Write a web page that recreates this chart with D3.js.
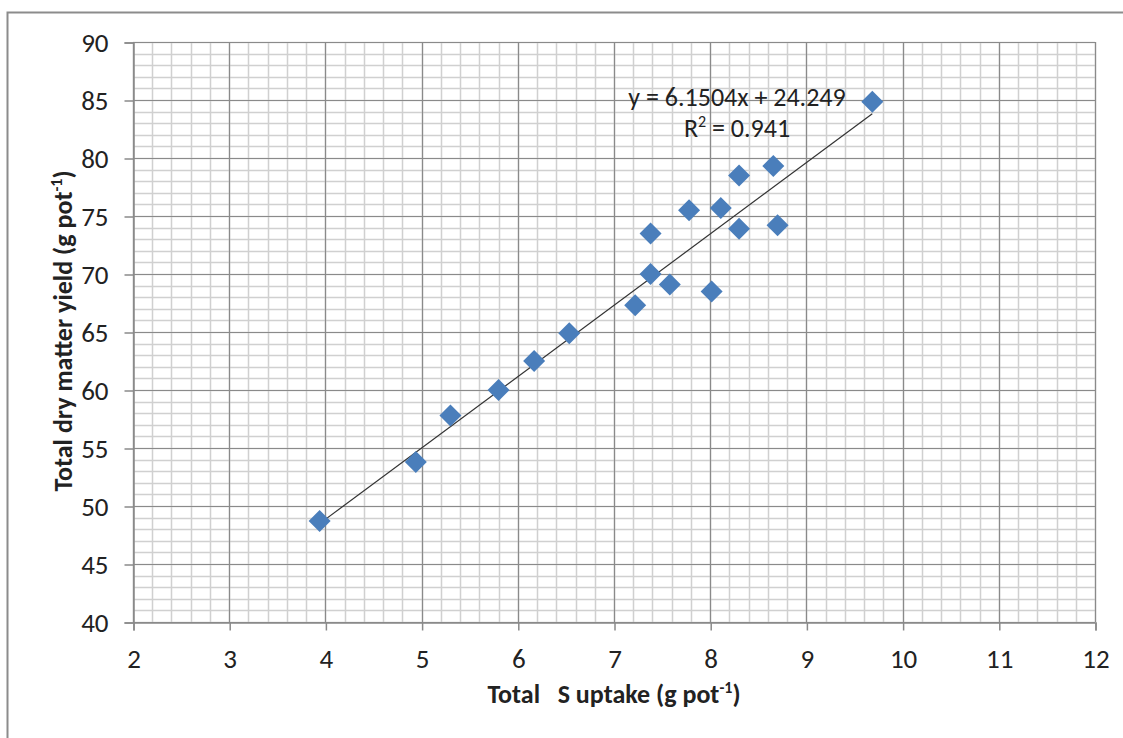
<!DOCTYPE html>
<html>
<head>
<meta charset="utf-8">
<script src="https://cdn.jsdelivr.net/npm/d3@7"></script>
<style>
  body { margin: 0; background: #fff; }
  svg text { font-family: Carlito, Lato, "Open Sans", sans-serif; fill: #222; }
</style>
</head>
<body>
<div id="chart"></div>
<script>
// data
var sUptake = [3.94, 4.94, 5.30, 5.80, 6.17, 6.535, 7.22, 7.38, 7.38, 7.58, 7.78, 8.015, 8.11, 8.30, 8.30, 8.656, 8.70, 9.685];
var dmYield = [48.7, 53.8, 57.8, 60.0, 62.5, 64.9, 67.3, 70.0, 73.5, 69.1, 75.5, 68.5, 75.7, 78.5, 73.9, 79.3, 74.2, 84.85];
var xTicks = [2, 3, 4, 5, 6, 7, 8, 9, 10, 11, 12];
var yTicks = [40, 45, 50, 55, 60, 65, 70, 75, 80, 85, 90];
var slope = 6.1504;
var intercept = 24.249;

var svgWidth = 1123;
var svgHeight = 738;

var margin = { top: 42, right: 28, bottom: 116, left: 133 };
var width = 1095 - margin.left;
var height = 622 - margin.top;

var svg = d3.select("#chart")
  .append("svg")
  .attr("width", svgWidth)
  .attr("height", svgHeight);

// chart area border
svg.append("rect")
  .attr("x", 7.5)
  .attr("y", 12.5)
  .attr("width", 1130)
  .attr("height", 760)
  .attr("fill", "none")
  .attr("stroke", "#8c8c8c")
  .attr("stroke-width", 2);

var chartGroup = svg.append("g")
  .attr("transform", `translate(${margin.left}, ${margin.top})`);

var xScale = d3.scaleLinear().domain([2, 12]).range([0, width]);
var yScale = d3.scaleLinear().domain([40, 90]).range([height, 0]);

// minor grid
var xMinor = d3.range(2, 12.001, 0.2);
var yMinor = d3.range(40, 90.001, 1);

chartGroup.append("g").selectAll("line")
  .data(xMinor)
  .enter()
  .append("line")
  .attr("x1", d => Math.round(xScale(d)) + 0.5)
  .attr("x2", d => Math.round(xScale(d)) + 0.5)
  .attr("y1", 0)
  .attr("y2", height)
  .attr("stroke", "#d0d0d0")
  .attr("stroke-width", 1.5);

chartGroup.append("g").selectAll("line")
  .data(yMinor)
  .enter()
  .append("line")
  .attr("y1", d => Math.round(yScale(d)) + 0.5)
  .attr("y2", d => Math.round(yScale(d)) + 0.5)
  .attr("x1", 0)
  .attr("x2", width)
  .attr("stroke", "#d0d0d0")
  .attr("stroke-width", 1.5);

// major grid
chartGroup.append("g").selectAll("line")
  .data(xTicks)
  .enter()
  .append("line")
  .attr("x1", d => Math.round(xScale(d)) + 0.5)
  .attr("x2", d => Math.round(xScale(d)) + 0.5)
  .attr("y1", 0)
  .attr("y2", height)
  .attr("stroke", "#8a8a8a")
  .attr("stroke-width", 1.2);

chartGroup.append("g").selectAll("line")
  .data(yTicks)
  .enter()
  .append("line")
  .attr("y1", d => Math.round(yScale(d)) + 0.5)
  .attr("y2", d => Math.round(yScale(d)) + 0.5)
  .attr("x1", 0)
  .attr("x2", width)
  .attr("stroke", "#8a8a8a")
  .attr("stroke-width", 1.2);

// axes
var bottomAxis = d3.axisBottom(xScale).tickValues(xTicks).tickSize(8).tickPadding(18).tickFormat(d3.format("d"));
var leftAxis = d3.axisLeft(yScale).tickValues(yTicks).tickSize(9).tickPadding(16).tickFormat(d3.format("d"));

var xAxisG = chartGroup.append("g")
  .attr("transform", `translate(0.5, ${height + 0.5})`)
  .call(bottomAxis);

var yAxisG = chartGroup.append("g")
  .attr("transform", "translate(0.5, 0.5)")
  .call(leftAxis);

[xAxisG, yAxisG].forEach(function (g) {
  g.select(".domain").attr("stroke", "#8a8a8a").attr("stroke-width", 1.5);
  g.selectAll(".tick line").attr("stroke", "#8a8a8a").attr("stroke-width", 1.5);
  g.selectAll(".tick text").attr("font-size", 27).attr("fill", "#222");
});

// trendline
var xMin = d3.min(sUptake);
var xMax = d3.max(sUptake);
chartGroup.append("line")
  .attr("x1", xScale(xMin))
  .attr("y1", yScale(slope * xMin + intercept))
  .attr("x2", xScale(xMax))
  .attr("y2", yScale(slope * xMax + intercept))
  .attr("stroke", "#333")
  .attr("stroke-width", 1.2);

// diamonds
chartGroup.selectAll(".pt")
  .data(sUptake)
  .enter()
  .append("path")
  .attr("class", "pt")
  .attr("d", "M0,-11L11,0L0,11L-11,0Z")
  .attr("transform", (d, i) => `translate(${xScale(d)}, ${yScale(dmYield[i])})`)
  .attr("fill", "#4a7ebb");

// equation label
var eq = chartGroup.append("text")
  .attr("x", 737 - margin.left)
  .attr("y", 106 - margin.top)
  .attr("text-anchor", "middle")
  .attr("font-size", 26)
  .text("y = 6.1504x + 24.249");

var r2 = chartGroup.append("text")
  .attr("x", 737 - margin.left)
  .attr("y", 137 - margin.top)
  .attr("text-anchor", "middle")
  .attr("font-size", 26);
r2.append("tspan").text("R");
r2.append("tspan").attr("font-size", 16).attr("dy", -10).text("2");
r2.append("tspan").attr("dy", 10).text(" = 0.941");

// axis titles
var xTitle = svg.append("text")
  .attr("x", 614)
  .attr("y", 703)
  .attr("text-anchor", "middle")
  .attr("font-size", 26)
  .attr("font-weight", "bold");
xTitle.append("tspan").text("Total\u00a0\u00a0 S uptake (g pot");
xTitle.append("tspan").attr("font-size", 16).attr("dy", -10).text("-1");
xTitle.append("tspan").attr("dy", 10).text(")");

var yTitle = svg.append("text")
  .attr("transform", "translate(72, 331) rotate(-90)")
  .attr("text-anchor", "middle")
  .attr("font-size", 26)
  .attr("font-weight", "bold");
yTitle.append("tspan").text("Total dry matter yield (g pot");
yTitle.append("tspan").attr("font-size", 16).attr("dy", -10).text("-1");
yTitle.append("tspan").attr("dy", 10).text(")");
</script>
</body>
</html>
